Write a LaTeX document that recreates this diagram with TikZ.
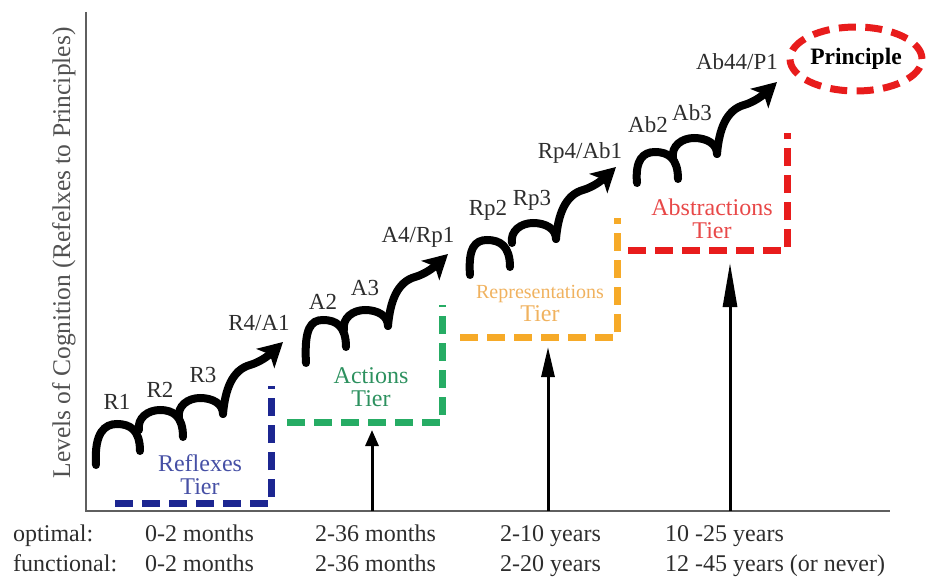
\documentclass[tikz,border=0pt]{standalone}
\usepackage{fontspec}
\setmainfont{Liberation Serif}
\usetikzlibrary{arrows.meta,shapes.geometric}
\definecolor{tblue}{RGB}{28,38,145}
\definecolor{tgreen}{RGB}{38,172,100}
\definecolor{torange}{RGB}{246,170,40}
\definecolor{tred}{RGB}{232,28,28}
\definecolor{lblue}{RGB}{70,80,165}
\definecolor{lgreen}{RGB}{45,145,95}
\definecolor{lorange}{RGB}{240,178,95}
\definecolor{lred}{RGB}{232,72,72}
\definecolor{txt}{RGB}{45,45,45}
\definecolor{axisgray}{RGB}{95,95,95}
\tikzset{
  curl/.style={line width=8pt, line cap=round, draw=black},
  curltip/.style={curl, -{Stealth[length=24pt,width=26pt,inset=6pt]}},
  tierline/.style={line width=7pt, dash pattern=on 18pt off 9pt},
  lbl/.style={inner sep=0pt, text=txt, font=\fontsize{23}{27}\selectfont},
  bot/.style={inner sep=0pt, anchor=base west, text=txt, font=\fontsize{24}{28}\selectfont},
  tierlbl/.style={inner sep=0pt, align=center, font=\fontsize{24}{23}\selectfont},
  axisline/.style={line width=2.5pt, draw=axisgray},
  uparrow/.style={line width=3pt, draw=black},
}
\newcommand\chump[5]{\begin{scope}[shift={(#1,#2)}]\draw[curl] (#3,#4) .. controls ({#3-2},8) and (-12,0) .. (0,0) .. controls (13,0) and (23,6) .. (23,#5);\end{scope}}
\newcommand\crise[2]{\begin{scope}[shift={(#1,#2)}]\draw[curltip] (23,16) .. controls (25,-8) and (32,-28) .. (50,-33) .. controls (60,-36) and (68,-42) .. (83,-56);\end{scope}}
\begin{document}
\begin{tikzpicture}[x=1pt,y=-1pt]
\useasboundingbox (0,0) rectangle (928,583);
% axes
\coordinate (ytop) at (86,12);
\coordinate (origin) at (86,511);
\coordinate (xend) at (890,511);
\draw[axisline] (ytop) -- (origin) -- (xend);
\node[rotate=90, inner sep=0pt, text=axisgray!85!black, font=\fontsize{25.5}{30}\selectfont] (ylabel) at (64,253) {Levels of Cognition (Refelxes to Principles)};
% tier dashed lines
\draw[tierline, tblue] (115,503) -- (271,503) -- (271,386);
\draw[tierline, tgreen] (287,422) -- (442,422) -- (442,305);
\draw[tierline, torange] (460,337) -- (617,337) -- (617,218);
\draw[tierline, tred] (628,250) -- (787,250) -- (787,133);
% tier labels
\node[tierlbl, text=lblue] (tref) at (200,475) {Reflexes\\Tier};
\node[tierlbl, text=lgreen] (tact) at (371,387) {Actions\\Tier};
\node[tierlbl, text=lorange] (trep) at (540,303) {{\fontsize{20}{23}\selectfont Representations}\\Tier};
\node[tierlbl, text=lred] (tabs) at (712,219) {Abstractions\\Tier};
% vertical arrows
\coordinate (a1b) at (372,511); \coordinate (a1t) at (372,430);
\coordinate (a2b) at (548,511); \coordinate (a2t) at (548,347);
\coordinate (a3b) at (730,511); \coordinate (a3t) at (730,263);
\draw[uparrow, -{Triangle[length=16pt,width=13pt]}] (a1b) -- (a1t);
\draw[uparrow, -{Triangle[length=30pt,width=13pt]}] (a2b) -- (a2t);
\draw[uparrow, -{Triangle[length=44pt,width=14pt]}] (a3b) -- (a3t);
% reflexes chain
\chump{117}{424}{-21}{41}{27}
\chump{160}{410}{-21}{20}{27}
\chump{200}{398}{-21}{20}{16}
\crise{200}{398}
% actions chain
\chump{323}{320}{-17}{43}{27}
\chump{365}{310}{-21}{20}{16}
\crise{365}{310}
% representations chain
\chump{487}{240}{-17}{35}{27}
\chump{533}{223}{-21}{20}{16}
\crise{533}{223}
% abstractions chain
\chump{655}{152}{-18}{31}{27}
\chump{694}{138}{-21}{20}{16}
\crise{694}{138}
% chain labels
\node[lbl] (r1) at (117,402) {R1};
\node[lbl] (r2) at (160,390) {R2};
\node[lbl] (r3) at (203,375) {R3};
\node[lbl] (r4) at (259,323) {R4/A1};
\node[lbl] (a2) at (323,302) {A2};
\node[lbl] (a3) at (365,288) {A3};
\node[lbl] (a4) at (418,237) {A4/Rp1};
\node[lbl] (rp2) at (488,210) {Rp2};
\node[lbl] (rp3) at (532,200) {Rp3};
\node[lbl] (rp4) at (580,153) {Rp4/Ab1};
\node[lbl] (ab2) at (648,125) {Ab2};
\node[lbl] (ab3) at (692,113) {Ab3};
\node[lbl] (ab4) at (737,62) {Ab44/P1};
% principle
\node[ellipse, draw=tred, line width=7pt, dash pattern=on 17pt off 9.5pt, minimum width=132pt, minimum height=64pt, inner sep=0pt, text=black, font=\fontsize{23.5}{28}\selectfont\bfseries] (principle) at (856,59) {Principle};
% bottom labels
\node[bot] (opt) at (13,541.5) {optimal:};
\node[bot] (fun) at (13,571.5) {functional:};
\node[bot] (o1) at (145,541.5) {0-2 months};
\node[bot] (f1) at (145,571.5) {0-2 months};
\node[bot] (o2) at (315,541.5) {2-36 months};
\node[bot] (f2) at (315,571.5) {2-36 months};
\node[bot] (o3) at (500,541.5) {2-10 years};
\node[bot] (f3) at (500,571.5) {2-20 years};
\node[bot] (o4) at (665,541.5) {10 -25 years};
\node[bot] (f4) at (665,571.5) {12 -45 years (or never)};
\end{tikzpicture}
\end{document}
